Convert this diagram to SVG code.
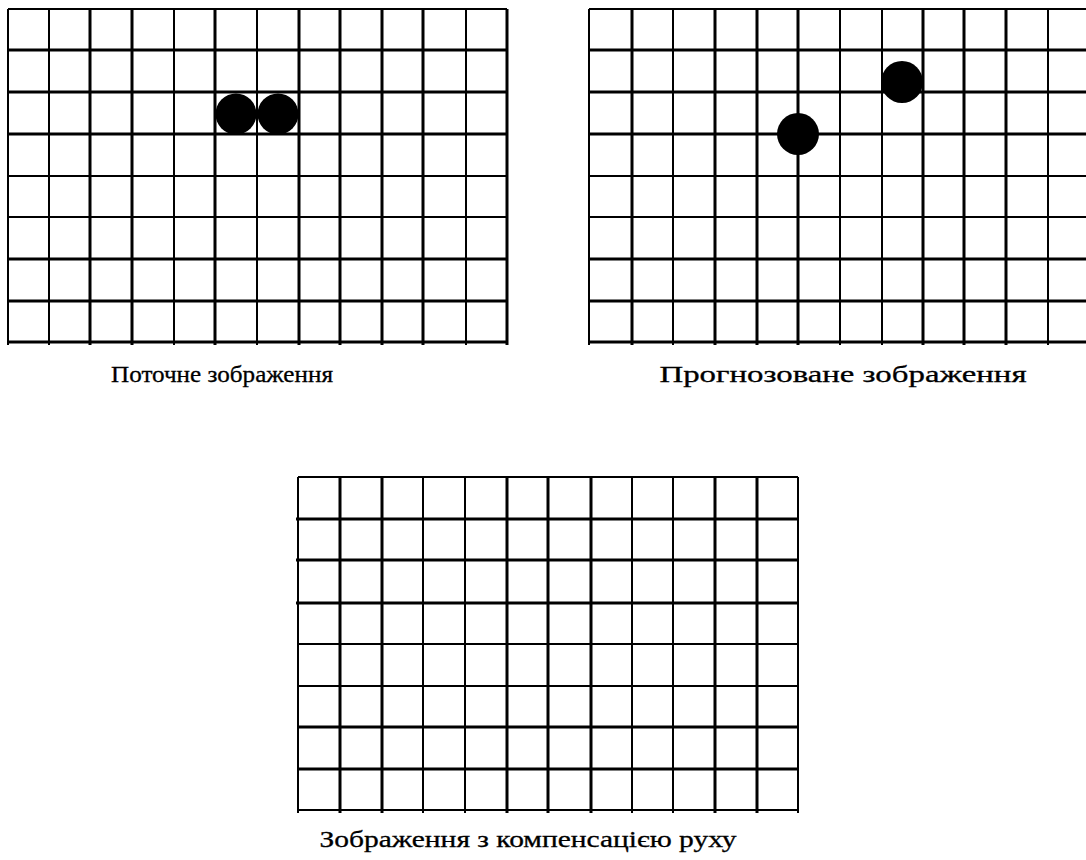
<svg xmlns="http://www.w3.org/2000/svg" width="1086" height="860" viewBox="0 0 1086 860">
<style>
.thin{stroke:#000;stroke-width:2;fill:none}
.thick{stroke:#000;stroke-width:3;fill:none}
.dot{fill:#000}
.lbl{font-family:"Liberation Serif","DejaVu Serif",serif;font-size:23px;fill:#000;text-anchor:middle;stroke:#000;stroke-width:0.3}
</style>
<rect width="1086" height="860" fill="#fff"/>
<g id="grid-current">
<path class="thin" d="M8,9V345M49,9V345M174,9V345M257,9V345M466,9V345M8,9H507M8,176H507M8,217H507"/>
<path class="thick" d="M90,9V345M132,9V345M215,9V345M299,9V345M340,9V345M382,9V345M423,9V345M507,9V345M8,50H507M8,92H507M8,134H507M8,259H507M8,301H507M8,342H507"/>
<circle class="dot" cx="236" cy="114" r="20.5"/>
<circle class="dot" cx="278" cy="114" r="20.5"/>
<text class="lbl" x="222" y="382" textLength="222" lengthAdjust="spacingAndGlyphs">Поточне зображення</text>
</g>
<g id="grid-predicted">
<path class="thin" d="M589,9V345M673,9V345M840,9V345M882,9V345M1048,9V345M589,9H1086M589,176H1086M589,217H1086"/>
<path class="thick" d="M632,9V345M715,9V345M757,9V345M798,9V345M923,9V345M964,9V345M1006,9V345M589,50H1086M589,92H1086M589,134H1086M589,259H1086M589,301H1086M589,342H1086"/>
<circle class="dot" cx="798" cy="134" r="21"/>
<circle class="dot" cx="902" cy="82" r="21"/>
<text class="lbl" x="843" y="382" textLength="367" lengthAdjust="spacingAndGlyphs">Прогнозоване зображення</text>
</g>
<g id="grid-compensated">
<path class="thin" d="M298,477V813M423,477V813M465,477V813M632,477V813M673,477V813M798,477V813M298,477H798M298,644H798M298,686H798M298,810H798"/>
<path class="thick" d="M340,477V813M382,477V813M507,477V813M548,477V813M591,477V813M715,477V813M757,477V813M296,519H798M296,560H798M296,603H798M298,727H798M298,769H798"/>
<text class="lbl" x="528" y="847" textLength="417" lengthAdjust="spacingAndGlyphs">Зображення з компенсацією руху</text>
</g>
<g id="connectors"></g>
</svg>
